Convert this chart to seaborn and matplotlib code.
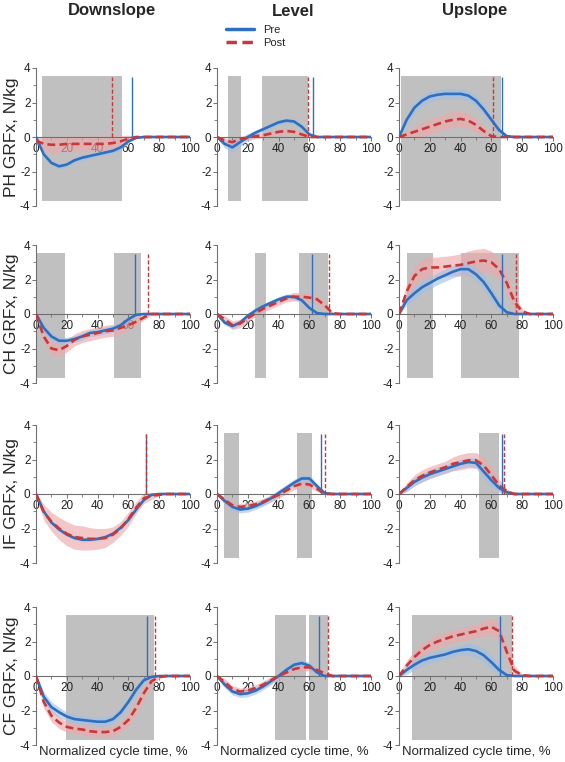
import pandas as pd
import seaborn as sns
import matplotlib.pyplot as plt
from matplotlib.lines import Line2D

# normalized cycle time, %
pct = [0, 5, 10, 15, 20, 25, 30, 35, 40, 45, 50, 55, 60, 65, 70, 75, 80, 85, 90, 95, 100]

conditions = ['Downslope', 'Level', 'Upslope']
forces = ['PH', 'CH', 'IF', 'CF']

# ---- PH ----
ph_down_pre = [0, -1.0, -1.5, -1.7, -1.6, -1.35, -1.2, -1.1, -1.0, -0.9, -0.8, -0.6, -0.25, -0.05, 0, 0, 0, 0, 0, 0, 0]
ph_down_pre_sd = [0.05, 0.15, 0.15, 0.15, 0.15, 0.15, 0.15, 0.15, 0.15, 0.15, 0.15, 0.15, 0.1, 0.05, 0, 0, 0, 0, 0, 0, 0]
ph_down_post = [-0.2, -0.4, -0.45, -0.45, -0.4, -0.4, -0.4, -0.4, -0.4, -0.4, -0.35, -0.25, -0.1, 0, 0, 0, 0, 0, 0, 0, 0]
ph_down_post_sd = [0.2, 0.4, 0.45, 0.45, 0.45, 0.45, 0.45, 0.45, 0.45, 0.45, 0.4, 0.35, 0.2, 0.05, 0, 0, 0, 0, 0, 0, 0]

ph_level_pre = [0, -0.4, -0.6, -0.3, 0, 0.25, 0.45, 0.65, 0.85, 0.95, 0.9, 0.6, 0.15, 0, 0, 0, 0, 0, 0, 0, 0]
ph_level_pre_sd = [0.05, 0.25, 0.25, 0.25, 0.2, 0.15, 0.15, 0.15, 0.15, 0.15, 0.15, 0.15, 0.1, 0.05, 0, 0, 0, 0, 0, 0, 0]
ph_level_post = [0, -0.2, -0.3, -0.1, -0.05, 0.05, 0.1, 0.2, 0.3, 0.35, 0.3, 0.15, 0, 0, 0, 0, 0, 0, 0, 0, 0]
ph_level_post_sd = [0.05, 0.15, 0.15, 0.15, 0.15, 0.15, 0.15, 0.15, 0.15, 0.15, 0.15, 0.1, 0.05, 0, 0, 0, 0, 0, 0, 0, 0]

ph_up_pre = [0, 1.0, 1.7, 2.1, 2.35, 2.45, 2.5, 2.5, 2.5, 2.4, 2.1, 1.6, 1.0, 0.4, 0.05, 0, 0, 0, 0, 0, 0]
ph_up_pre_sd = [0.05, 0.25, 0.3, 0.3, 0.3, 0.3, 0.3, 0.3, 0.3, 0.3, 0.3, 0.3, 0.25, 0.15, 0.05, 0, 0, 0, 0, 0, 0]
ph_up_post = [0, 0.15, 0.3, 0.45, 0.6, 0.75, 0.9, 1.0, 1.05, 0.95, 0.7, 0.35, 0.05, 0, 0, 0, 0, 0, 0, 0, 0]
ph_up_post_sd = [0.05, 0.2, 0.3, 0.4, 0.45, 0.45, 0.45, 0.45, 0.45, 0.45, 0.4, 0.3, 0.1, 0, 0, 0, 0, 0, 0, 0, 0]

# ---- CH ----
ch_down_pre = [0, -0.8, -1.3, -1.55, -1.55, -1.45, -1.3, -1.1, -1.05, -0.95, -0.85, -0.65, -0.3, -0.05, 0, 0, 0, 0, 0, 0, 0]
ch_down_pre_sd = [0.05, 0.2, 0.2, 0.2, 0.2, 0.2, 0.2, 0.2, 0.2, 0.2, 0.2, 0.2, 0.15, 0.05, 0, 0, 0, 0, 0, 0, 0]
ch_down_post = [0, -1.3, -2.0, -2.1, -1.85, -1.5, -1.3, -1.2, -1.1, -1.0, -0.95, -0.8, -0.65, -0.45, -0.2, 0, 0, 0, 0, 0, 0]
ch_down_post_sd = [0.1, 0.35, 0.4, 0.4, 0.35, 0.35, 0.35, 0.35, 0.35, 0.35, 0.35, 0.35, 0.3, 0.25, 0.15, 0.05, 0, 0, 0, 0, 0]

ch_level_pre = [0, -0.5, -0.7, -0.5, -0.1, 0.2, 0.45, 0.65, 0.85, 1.0, 1.0, 0.8, 0.35, 0.05, 0, 0, 0, 0, 0, 0, 0]
ch_level_pre_sd = [0.05, 0.15, 0.15, 0.15, 0.15, 0.15, 0.15, 0.15, 0.15, 0.15, 0.15, 0.15, 0.1, 0.05, 0, 0, 0, 0, 0, 0, 0]
ch_level_post = [0, -0.3, -0.65, -0.55, -0.25, 0.05, 0.3, 0.5, 0.7, 0.9, 1.0, 1.0, 0.95, 0.85, 0.5, 0.05, 0, 0, 0, 0, 0]
ch_level_post_sd = [0.05, 0.2, 0.25, 0.25, 0.2, 0.2, 0.2, 0.2, 0.2, 0.2, 0.25, 0.25, 0.25, 0.25, 0.2, 0.05, 0, 0, 0, 0, 0]

ch_up_pre = [0, 0.8, 1.2, 1.55, 1.8, 2.05, 2.25, 2.45, 2.6, 2.6, 2.3, 1.85, 1.2, 0.5, 0.1, 0, 0, 0, 0, 0, 0]
ch_up_pre_sd = [0.05, 0.3, 0.35, 0.35, 0.35, 0.35, 0.35, 0.35, 0.35, 0.35, 0.4, 0.45, 0.45, 0.3, 0.1, 0, 0, 0, 0, 0, 0]
ch_up_post = [0, 1.3, 2.2, 2.6, 2.7, 2.7, 2.75, 2.8, 2.85, 2.95, 3.05, 3.1, 3.0, 2.6, 1.8, 0.7, 0.15, 0, 0, 0, 0]
ch_up_post_sd = [0.1, 0.5, 0.6, 0.6, 0.6, 0.6, 0.6, 0.6, 0.65, 0.7, 0.7, 0.7, 0.65, 0.6, 0.6, 0.45, 0.15, 0, 0, 0, 0]

# ---- IF ----
if_down_pre = [0, -1.0, -1.65, -2.05, -2.35, -2.55, -2.65, -2.65, -2.6, -2.5, -2.3, -1.95, -1.5, -0.9, -0.35, -0.05, 0, 0, 0, 0, 0]
if_down_pre_sd = [0.05, 0.1, 0.1, 0.1, 0.1, 0.1, 0.1, 0.1, 0.1, 0.1, 0.1, 0.1, 0.1, 0.1, 0.05, 0, 0, 0, 0, 0, 0]
if_down_post = [0, -1.05, -1.6, -2.0, -2.3, -2.5, -2.55, -2.6, -2.6, -2.55, -2.35, -2.0, -1.45, -0.8, -0.25, -0.1, -0.05, 0, 0, 0, 0]
if_down_post_sd = [0.1, 0.45, 0.55, 0.65, 0.7, 0.7, 0.7, 0.65, 0.6, 0.55, 0.45, 0.4, 0.4, 0.35, 0.3, 0.2, 0.05, 0, 0, 0, 0]

if_level_pre = [0, -0.4, -0.75, -0.9, -0.85, -0.7, -0.5, -0.25, 0.05, 0.35, 0.65, 0.9, 0.9, 0.45, 0.05, 0, 0, 0, 0, 0, 0]
if_level_pre_sd = [0.05, 0.2, 0.2, 0.2, 0.2, 0.2, 0.2, 0.2, 0.2, 0.2, 0.2, 0.2, 0.2, 0.15, 0.05, 0, 0, 0, 0, 0, 0]
if_level_post = [0, -0.35, -0.65, -0.75, -0.7, -0.6, -0.45, -0.25, -0.05, 0.2, 0.45, 0.6, 0.55, 0.3, 0, 0, 0, 0, 0, 0, 0]
if_level_post_sd = [0.05, 0.2, 0.2, 0.2, 0.2, 0.2, 0.2, 0.2, 0.2, 0.2, 0.2, 0.2, 0.2, 0.15, 0.05, 0, 0, 0, 0, 0, 0]

if_up_pre = [0, 0.35, 0.7, 0.95, 1.15, 1.3, 1.45, 1.6, 1.75, 1.85, 1.8, 1.3, 0.8, 0.35, 0.1, 0, 0, 0, 0, 0, 0]
if_up_pre_sd = [0.05, 0.2, 0.25, 0.25, 0.25, 0.25, 0.25, 0.25, 0.25, 0.25, 0.3, 0.4, 0.4, 0.25, 0.1, 0, 0, 0, 0, 0, 0]
if_up_post = [0, 0.4, 0.8, 1.05, 1.25, 1.4, 1.55, 1.75, 1.85, 1.95, 1.95, 1.65, 1.1, 0.5, 0.15, 0, 0, 0, 0, 0, 0]
if_up_post_sd = [0.05, 0.25, 0.3, 0.35, 0.35, 0.35, 0.35, 0.4, 0.45, 0.45, 0.45, 0.5, 0.5, 0.35, 0.15, 0.05, 0, 0, 0, 0, 0]

# ---- CF ----
cf_down_pre = [0, -1.2, -1.8, -2.1, -2.35, -2.5, -2.55, -2.6, -2.65, -2.65, -2.5, -2.1, -1.5, -0.8, -0.25, -0.05, 0, 0, 0, 0, 0]
cf_down_pre_sd = [0.05, 0.3, 0.3, 0.3, 0.25, 0.25, 0.25, 0.25, 0.25, 0.25, 0.25, 0.25, 0.25, 0.25, 0.15, 0.05, 0, 0, 0, 0, 0]
cf_down_post = [0, -1.5, -2.3, -2.7, -2.95, -3.05, -3.1, -3.2, -3.25, -3.25, -3.2, -2.95, -2.55, -1.85, -1.0, -0.3, -0.05, 0, 0, 0, 0]
cf_down_post_sd = [0.1, 0.35, 0.35, 0.35, 0.3, 0.3, 0.3, 0.3, 0.3, 0.3, 0.3, 0.3, 0.35, 0.4, 0.4, 0.25, 0.1, 0, 0, 0, 0]

cf_level_pre = [0, -0.5, -0.9, -1.05, -1.0, -0.85, -0.6, -0.3, 0, 0.35, 0.65, 0.75, 0.6, 0.2, 0, 0, 0, 0, 0, 0, 0]
cf_level_pre_sd = [0.05, 0.2, 0.2, 0.2, 0.2, 0.2, 0.2, 0.2, 0.2, 0.2, 0.2, 0.2, 0.2, 0.1, 0.05, 0, 0, 0, 0, 0, 0]
cf_level_post = [0, -0.35, -0.75, -0.9, -0.85, -0.7, -0.5, -0.25, 0, 0.2, 0.4, 0.5, 0.5, 0.35, 0.15, 0, 0, 0, 0, 0, 0]
cf_level_post_sd = [0.05, 0.2, 0.2, 0.2, 0.2, 0.2, 0.2, 0.2, 0.2, 0.2, 0.2, 0.2, 0.2, 0.2, 0.1, 0.05, 0, 0, 0, 0, 0]

cf_up_pre = [0, 0.35, 0.65, 0.9, 1.05, 1.15, 1.25, 1.4, 1.5, 1.55, 1.45, 1.2, 0.8, 0.35, 0.05, 0, 0, 0, 0, 0, 0]
cf_up_pre_sd = [0.1, 0.25, 0.3, 0.3, 0.3, 0.3, 0.3, 0.3, 0.3, 0.35, 0.4, 0.4, 0.4, 0.3, 0.05, 0, 0, 0, 0, 0, 0]
cf_up_post = [0, 0.6, 1.1, 1.5, 1.8, 2.0, 2.15, 2.3, 2.4, 2.5, 2.6, 2.75, 2.85, 2.6, 1.4, 0.3, 0.05, 0, 0, 0, 0]
cf_up_post_sd = [0.1, 0.3, 0.35, 0.4, 0.4, 0.4, 0.4, 0.4, 0.4, 0.4, 0.4, 0.45, 0.5, 0.55, 0.5, 0.3, 0.05, 0, 0, 0, 0]

# significant regions (start, end), % of cycle
ph_down_spans = [(4, 56)]
ph_level_spans = [(7, 15.5), (29, 59)]
ph_up_spans = [(1, 66)]
ch_down_spans = [(0, 19), (50.5, 68)]
ch_level_spans = [(24.5, 31.5), (53, 72)]
ch_up_spans = [(5, 22), (40.5, 78)]
if_down_spans = []
if_level_spans = [(4.5, 14), (52, 62)]
if_up_spans = [(52, 65)]
cf_down_spans = [(19.5, 76.5)]
cf_level_spans = [(37.5, 58), (60, 72)]
cf_up_spans = [(8.5, 73.5)]

# toe-off (pre, post)
ph_toe_off = [(62.5, 49.5), (62.5, 59), (67, 61)]
ch_toe_off = [(64, 73), (62, 73), (67, 76)]
if_toe_off = [(71.5, 71.5), (67.5, 70), (67, 68.5)]
cf_toe_off = [(72, 77), (66, 72), (65.5, 73.5)]

panels = {
    'PH': [(ph_down_pre, ph_down_pre_sd, ph_down_post, ph_down_post_sd, ph_down_spans),
           (ph_level_pre, ph_level_pre_sd, ph_level_post, ph_level_post_sd, ph_level_spans),
           (ph_up_pre, ph_up_pre_sd, ph_up_post, ph_up_post_sd, ph_up_spans)],
    'CH': [(ch_down_pre, ch_down_pre_sd, ch_down_post, ch_down_post_sd, ch_down_spans),
           (ch_level_pre, ch_level_pre_sd, ch_level_post, ch_level_post_sd, ch_level_spans),
           (ch_up_pre, ch_up_pre_sd, ch_up_post, ch_up_post_sd, ch_up_spans)],
    'IF': [(if_down_pre, if_down_pre_sd, if_down_post, if_down_post_sd, if_down_spans),
           (if_level_pre, if_level_pre_sd, if_level_post, if_level_post_sd, if_level_spans),
           (if_up_pre, if_up_pre_sd, if_up_post, if_up_post_sd, if_up_spans)],
    'CF': [(cf_down_pre, cf_down_pre_sd, cf_down_post, cf_down_post_sd, cf_down_spans),
           (cf_level_pre, cf_level_pre_sd, cf_level_post, cf_level_post_sd, cf_level_spans),
           (cf_up_pre, cf_up_pre_sd, cf_up_post, cf_up_post_sd, cf_up_spans)],
}
toe_offs = {'PH': ph_toe_off, 'CH': ch_toe_off, 'IF': if_toe_off, 'CF': cf_toe_off}

sns.set_style('white')
plt.rcParams['font.family'] = ['Liberation Sans', 'DejaVu Sans']
plt.rcParams['axes.unicode_minus'] = False

blue = '#2f6fc0'
blue_band = '#9dbfe8'
red = '#c8383a'
red_band = '#eeaaaa'
box = '#c0c0c0'
spine = '#707070'

W, H = 565, 762
fig = plt.figure(figsize=(W / 100, H / 100), dpi=100)

col_x = [36, 217, 399]   # pixel of x=0
col_w = 154
row_y = [68, 245, 425, 607]  # pixel of y=4
row_h = 138

for r, force in enumerate(forces):
    for c in range(3):
        pre, pre_sd, post, post_sd, spans = panels[force][c]
        ax = fig.add_axes([col_x[c] / W, 1 - (row_y[r] + row_h) / H, col_w / W, row_h / H])

        for x0, x1 in spans:
            ax.axvspan(x0, x1, ymin=0.035, ymax=0.94, color=box, lw=0, zorder=0)

        ax.fill_between(pct, [m - s for m, s in zip(post, post_sd)],
                        [m + s for m, s in zip(post, post_sd)],
                        color=red_band, alpha=0.65, lw=0, zorder=1)
        ax.fill_between(pct, [m - s for m, s in zip(pre, pre_sd)],
                        [m + s for m, s in zip(pre, pre_sd)],
                        color=blue_band, alpha=0.6, lw=0, zorder=1)

        df = pd.DataFrame({'pct': pct, 'Pre': pre, 'Post': post}).melt(
            id_vars='pct', var_name='group', value_name='grf')
        sns.lineplot(data=df, x='pct', y='grf', hue='group', style='group',
                     palette={'Pre': blue, 'Post': red},
                     dashes={'Pre': '', 'Post': (3, 1.6)},
                     linewidth=1.9, legend=False, ax=ax, zorder=3)

        pre_off, post_off = toe_offs[force][c]
        ax.vlines(pre_off, 0, 3.5, color=blue, lw=1.0, zorder=4)
        ax.vlines(post_off, 0, 3.5, color=red, lw=1.0, linestyles=(0, (3, 1.5)), zorder=4)

        ax.set_xlim(0, 100)
        ax.set_ylim(-4, 4)
        ax.set_xlabel('')
        ax.set_ylabel('')
        ax.spines['left'].set_position(('data', 0))
        ax.spines['bottom'].set_position(('data', 0))
        ax.spines['top'].set_visible(False)
        ax.spines['right'].set_visible(False)
        for s in ['left', 'bottom']:
            ax.spines[s].set_color(spine)
            ax.spines[s].set_linewidth(0.8)
            ax.spines[s].set_zorder(2)
        ax.set_xticks([0, 20, 40, 60, 80, 100])
        ax.set_xticks([10, 30, 50, 70, 90], minor=True)
        ax.set_yticks([-4, -2, 0, 2, 4])
        ax.set_yticks([-3, -1, 1, 3], minor=True)
        ax.tick_params(axis='both', which='both', bottom=True, left=True,
                       direction='out', color=spine)
        ax.tick_params(axis='both', which='major', length=3, width=0.7,
                       labelsize=8.5, labelcolor='#222222', pad=1)
        ax.tick_params(axis='both', which='minor', length=2, width=0.6)
        ax.patch.set_alpha(0)

        if c == 0:
            fig.text(12 / W, 1 - (row_y[r] + row_h / 2) / H, f'{force} GRFx, N/kg',
                     rotation=90, ha='center', va='center', fontsize=12.5)
        if r == 3:
            fig.text((col_x[c] + 77) / W, 1 - 752 / H, 'Normalized cycle time, %',
                     ha='center', va='center', fontsize=9.5)

for c, name in enumerate(conditions):
    fig.text((col_x[c] + 76) / W, 1 - 11 / H, name, ha='center', va='center',
             fontsize=12, fontweight='bold')

handles = [Line2D([0], [0], color=blue, lw=2.5),
           Line2D([0], [0], color=red, lw=2.5, ls=(0, (3, 1.6)))]
fig.legend(handles, ['Pre', 'Post'], loc='upper left',
           bbox_to_anchor=(226 / W, 1 - 25 / H), frameon=False, fontsize=8,
           handlelength=2.5, labelspacing=0.3, borderaxespad=0, borderpad=0)

fig.savefig('out.png', dpi=100)
